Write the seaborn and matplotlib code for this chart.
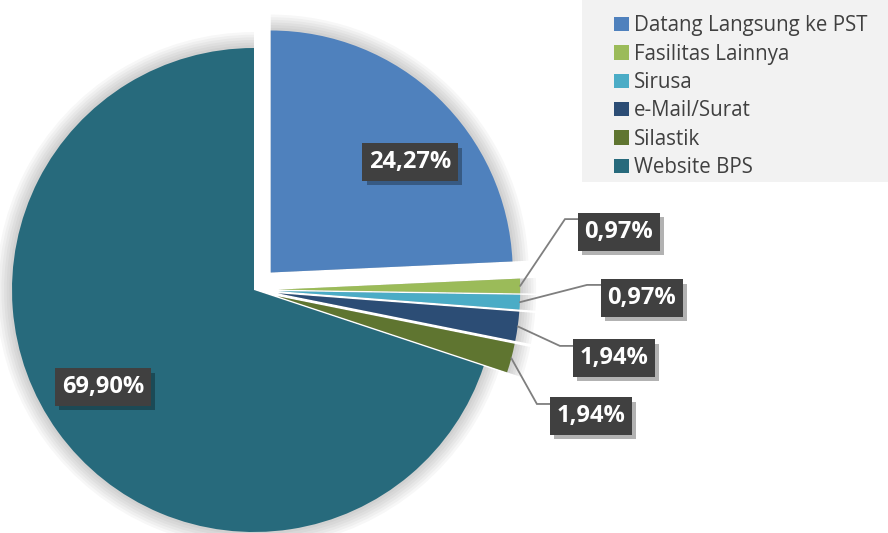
import numpy as np
import matplotlib
matplotlib.use('Agg')
import matplotlib.pyplot as plt
import matplotlib.patheffects as pe
from matplotlib.patches import Patch, Rectangle
import seaborn as sns

# data
categories = ['Datang Langsung ke PST', 'Fasilitas Lainnya', 'Sirusa',
              'e-Mail/Surat', 'Silastik', 'Website BPS']
shares = [24.27, 0.97, 0.97, 1.94, 1.94, 69.90]
value_labels = ['24,27%', '0,97%', '0,97%', '1,94%', '1,94%', '69,90%']

# style / layout
COLORS = ['#4F81BD', '#9BBB59', '#4BACC6', '#2C4D75', '#5F7530', '#276A7C']
explode = [0.1, 0.1, 0.1, 0.1, 0.1, 0.0]
label_pos = [(0.645, 0.529), (1.508, 0.240), (1.603, -0.033),
             (1.488, -0.281), (1.393, -0.521), (-0.624, -0.401)]
elbows = [None, (1.285, 0.293), (1.376, 0.021), (1.264, -0.231),
          (1.169, -0.471), None]

sns.set_theme(style='white')
plt.rcParams['font.family'] = ['Open Sans', 'DejaVu Sans']

W, H, CX, CY, R = 888, 533, 254, 290, 242
fig = plt.figure(figsize=(W / 100, H / 100), dpi=100, facecolor='white')
ax = fig.add_axes([0, 0, 1, 1])
ax.set_aspect('equal')
ax.axis('off')

# soft shadow behind the pie
for k in range(6):
    ax.pie(shares, explode=explode, startangle=90, counterclock=False,
           radius=1.0 + 0.011 * (k + 1), colors=['#000000'] * len(shares),
           wedgeprops=dict(linewidth=0, alpha=0.03))

wedges, _ = ax.pie(shares, explode=explode, startangle=90, counterclock=False,
                   colors=COLORS, wedgeprops=dict(linewidth=0))
ax.set_xlim(-CX / R, (W - CX) / R)
ax.set_ylim(-(H - CY) / R, CY / R)

# leader lines
for w, el, lp in zip(wedges, elbows, label_pos):
    if el is None:
        continue
    ang = np.deg2rad((w.theta1 + w.theta2) / 2)
    sx = w.center[0] + w.r * np.cos(ang)
    sy = w.center[1] + w.r * np.sin(ang)
    ax.plot([sx, el[0], lp[0]], [sy, el[1], el[1]], color='#7F7F7F',
            lw=1.3, zorder=3, solid_joinstyle='miter')

# value labels in dark boxes with a drop shadow
for txt, (lx, ly) in zip(value_labels, label_pos):
    t = ax.text(lx, ly, txt, ha='center', va='center', fontsize=17,
                fontweight='bold', color='white', zorder=5,
                bbox=dict(boxstyle='square,pad=0.28', fc='#404040', ec='none'))
    t.get_bbox_patch().set_path_effects([
        pe.SimplePatchShadow(offset=(3, -3), shadow_rgbFace='black', alpha=0.3),
        pe.Normal()])

# legend panel
fig.patches.append(Rectangle((582 / W, 1 - 182 / H), 1 - 582 / W, 182 / H,
                             transform=fig.transFigure, fc='#F2F2F2', ec='none', zorder=0))
handles = [Patch(fc=c, ec='none') for c in COLORS]
fig.legend(handles, categories, loc='upper left', bbox_to_anchor=(604 / W, 1 - 5 / H),
           frameon=False, fontsize=14.8, labelspacing=0.36, handlelength=0.7,
           handleheight=0.7, handletextpad=0.25, borderpad=0, labelcolor='#404040')

plt.savefig('out.png', dpi=100, facecolor='white')
plt.close()
